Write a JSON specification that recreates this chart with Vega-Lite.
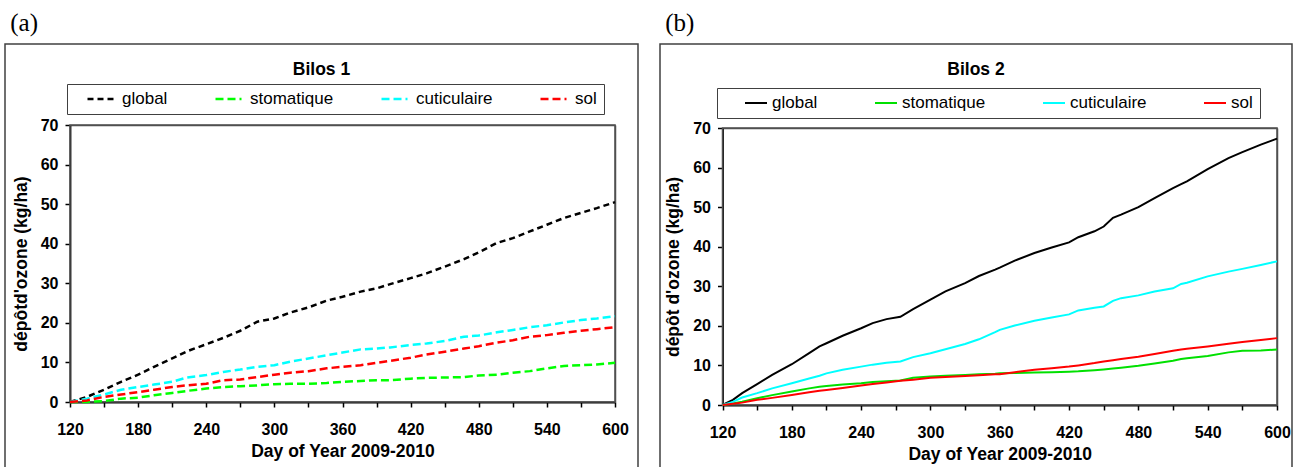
{
  "$schema": "https://vega.github.io/schema/vega-lite/v6.json",
  "padding": {"left": 4, "top": 11, "right": 0, "bottom": 0},
  "spacing": 20,
  "resolve": {"scale": {"color": "independent", "strokeDash": "independent"}, "legend": {"color": "independent", "strokeDash": "independent"}},
  "config": {
    "font": "Liberation Sans",
    "view": {"stroke": "#404040", "strokeWidth": 1.5},
    "axis": {"grid": false, "domainColor": "#000000", "domainWidth": 1.8, "tickColor": "#000000", "tickWidth": 1.5, "tickSize": 5, "labelFont": "Liberation Sans", "labelFontSize": 16, "labelFontWeight": "bold", "labelColor": "#000000", "titleFont": "Liberation Sans", "titleFontSize": 17.5, "titleFontWeight": "bold", "titleColor": "#000000", "labelFlush": false, "labelOverlap": false},
    "legend": {"labelFont": "Liberation Sans", "labelFontSize": 17, "labelColor": "#000000"}
  },
  "datasets": {
    "a": [
      {"day":120,"serie":"global","v":0},{"day":135,"serie":"global","v":1.3},{"day":150,"serie":"global","v":3.1},{"day":165,"serie":"global","v":5.1},{"day":180,"serie":"global","v":6.9},{"day":194,"serie":"global","v":8.9},{"day":210,"serie":"global","v":11.0},{"day":223,"serie":"global","v":12.8},{"day":240,"serie":"global","v":14.6},{"day":255,"serie":"global","v":16.2},{"day":270,"serie":"global","v":18.0},{"day":285,"serie":"global","v":20.3},{"day":300,"serie":"global","v":21.1},{"day":314,"serie":"global","v":22.6},{"day":330,"serie":"global","v":23.9},{"day":346,"serie":"global","v":25.6},{"day":360,"serie":"global","v":26.6},{"day":376,"serie":"global","v":27.9},{"day":390,"serie":"global","v":28.7},{"day":402,"serie":"global","v":29.8},{"day":420,"serie":"global","v":31.3},{"day":434,"serie":"global","v":32.5},{"day":450,"serie":"global","v":34.2},{"day":467,"serie":"global","v":36.1},{"day":480,"serie":"global","v":37.8},{"day":496,"serie":"global","v":40.2},{"day":510,"serie":"global","v":41.4},{"day":525,"serie":"global","v":43.1},{"day":540,"serie":"global","v":44.8},{"day":555,"serie":"global","v":46.5},{"day":570,"serie":"global","v":47.8},{"day":584,"serie":"global","v":49.0},{"day":600,"serie":"global","v":50.5},
      {"day":120,"serie":"stomatique","v":0},{"day":135,"serie":"stomatique","v":0},{"day":150,"serie":"stomatique","v":0.25},{"day":165,"serie":"stomatique","v":0.85},{"day":180,"serie":"stomatique","v":1.1},{"day":194,"serie":"stomatique","v":1.7},{"day":210,"serie":"stomatique","v":2.3},{"day":223,"serie":"stomatique","v":2.8},{"day":240,"serie":"stomatique","v":3.4},{"day":255,"serie":"stomatique","v":3.8},{"day":270,"serie":"stomatique","v":4.0},{"day":285,"serie":"stomatique","v":4.2},{"day":300,"serie":"stomatique","v":4.5},{"day":314,"serie":"stomatique","v":4.6},{"day":330,"serie":"stomatique","v":4.6},{"day":346,"serie":"stomatique","v":4.8},{"day":360,"serie":"stomatique","v":5.1},{"day":376,"serie":"stomatique","v":5.3},{"day":390,"serie":"stomatique","v":5.5},{"day":402,"serie":"stomatique","v":5.5},{"day":420,"serie":"stomatique","v":5.9},{"day":434,"serie":"stomatique","v":6.1},{"day":450,"serie":"stomatique","v":6.2},{"day":467,"serie":"stomatique","v":6.3},{"day":480,"serie":"stomatique","v":6.7},{"day":496,"serie":"stomatique","v":6.9},{"day":510,"serie":"stomatique","v":7.4},{"day":525,"serie":"stomatique","v":7.8},{"day":540,"serie":"stomatique","v":8.5},{"day":555,"serie":"stomatique","v":9.1},{"day":570,"serie":"stomatique","v":9.3},{"day":584,"serie":"stomatique","v":9.5},{"day":600,"serie":"stomatique","v":9.9},
      {"day":120,"serie":"cuticulaire","v":0},{"day":135,"serie":"cuticulaire","v":0.85},{"day":150,"serie":"cuticulaire","v":1.9},{"day":165,"serie":"cuticulaire","v":3.1},{"day":180,"serie":"cuticulaire","v":3.8},{"day":194,"serie":"cuticulaire","v":4.4},{"day":210,"serie":"cuticulaire","v":5.1},{"day":223,"serie":"cuticulaire","v":6.2},{"day":240,"serie":"cuticulaire","v":6.8},{"day":255,"serie":"cuticulaire","v":7.6},{"day":270,"serie":"cuticulaire","v":8.2},{"day":285,"serie":"cuticulaire","v":8.9},{"day":300,"serie":"cuticulaire","v":9.3},{"day":314,"serie":"cuticulaire","v":10.2},{"day":330,"serie":"cuticulaire","v":11.0},{"day":346,"serie":"cuticulaire","v":11.8},{"day":360,"serie":"cuticulaire","v":12.5},{"day":376,"serie":"cuticulaire","v":13.3},{"day":390,"serie":"cuticulaire","v":13.5},{"day":402,"serie":"cuticulaire","v":13.8},{"day":420,"serie":"cuticulaire","v":14.4},{"day":434,"serie":"cuticulaire","v":14.8},{"day":450,"serie":"cuticulaire","v":15.4},{"day":467,"serie":"cuticulaire","v":16.5},{"day":480,"serie":"cuticulaire","v":16.8},{"day":496,"serie":"cuticulaire","v":17.6},{"day":510,"serie":"cuticulaire","v":18.2},{"day":525,"serie":"cuticulaire","v":18.9},{"day":540,"serie":"cuticulaire","v":19.4},{"day":555,"serie":"cuticulaire","v":20.1},{"day":570,"serie":"cuticulaire","v":20.7},{"day":584,"serie":"cuticulaire","v":21.1},{"day":600,"serie":"cuticulaire","v":21.7},
      {"day":120,"serie":"sol","v":0},{"day":135,"serie":"sol","v":0.4},{"day":150,"serie":"sol","v":1.3},{"day":165,"serie":"sol","v":1.9},{"day":180,"serie":"sol","v":2.5},{"day":194,"serie":"sol","v":3.1},{"day":210,"serie":"sol","v":3.8},{"day":223,"serie":"sol","v":4.2},{"day":240,"serie":"sol","v":4.6},{"day":255,"serie":"sol","v":5.5},{"day":270,"serie":"sol","v":5.7},{"day":285,"serie":"sol","v":6.3},{"day":300,"serie":"sol","v":6.9},{"day":314,"serie":"sol","v":7.4},{"day":330,"serie":"sol","v":7.8},{"day":346,"serie":"sol","v":8.5},{"day":360,"serie":"sol","v":8.9},{"day":376,"serie":"sol","v":9.3},{"day":390,"serie":"sol","v":9.9},{"day":402,"serie":"sol","v":10.4},{"day":420,"serie":"sol","v":11.2},{"day":434,"serie":"sol","v":12.0},{"day":450,"serie":"sol","v":12.7},{"day":467,"serie":"sol","v":13.5},{"day":480,"serie":"sol","v":14.1},{"day":496,"serie":"sol","v":15.0},{"day":510,"serie":"sol","v":15.6},{"day":525,"serie":"sol","v":16.5},{"day":540,"serie":"sol","v":16.9},{"day":555,"serie":"sol","v":17.5},{"day":570,"serie":"sol","v":18.0},{"day":584,"serie":"sol","v":18.4},{"day":600,"serie":"sol","v":18.9}
    ],
    "b": [
      {"day":120,"serie":"global","v":0},{"day":129,"serie":"global","v":1.3},{"day":137,"serie":"global","v":3.0},{"day":150,"serie":"global","v":5.3},{"day":163,"serie":"global","v":7.6},{"day":180,"serie":"global","v":10.3},{"day":195,"serie":"global","v":13.1},{"day":204,"serie":"global","v":14.8},{"day":210,"serie":"global","v":15.6},{"day":224,"serie":"global","v":17.5},{"day":240,"serie":"global","v":19.4},{"day":250,"serie":"global","v":20.7},{"day":262,"serie":"global","v":21.7},{"day":274,"serie":"global","v":22.3},{"day":285,"serie":"global","v":24.2},{"day":300,"serie":"global","v":26.6},{"day":313,"serie":"global","v":28.7},{"day":330,"serie":"global","v":30.8},{"day":342,"serie":"global","v":32.6},{"day":356,"serie":"global","v":34.2},{"day":360,"serie":"global","v":34.7},{"day":373,"serie":"global","v":36.5},{"day":390,"serie":"global","v":38.4},{"day":405,"serie":"global","v":39.8},{"day":420,"serie":"global","v":41.1},{"day":428,"serie":"global","v":42.4},{"day":442,"serie":"global","v":43.9},{"day":450,"serie":"global","v":45.1},{"day":458,"serie":"global","v":47.3},{"day":465,"serie":"global","v":48.1},{"day":480,"serie":"global","v":50.0},{"day":494,"serie":"global","v":52.3},{"day":510,"serie":"global","v":54.8},{"day":517,"serie":"global","v":55.8},{"day":522,"serie":"global","v":56.5},{"day":540,"serie":"global","v":59.6},{"day":558,"serie":"global","v":62.4},{"day":570,"serie":"global","v":63.9},{"day":586,"serie":"global","v":65.8},{"day":600,"serie":"global","v":67.3},
      {"day":120,"serie":"stomatique","v":0},{"day":129,"serie":"stomatique","v":0.4},{"day":137,"serie":"stomatique","v":0.8},{"day":150,"serie":"stomatique","v":1.7},{"day":163,"serie":"stomatique","v":2.5},{"day":180,"serie":"stomatique","v":3.4},{"day":195,"serie":"stomatique","v":4.2},{"day":204,"serie":"stomatique","v":4.6},{"day":210,"serie":"stomatique","v":4.8},{"day":224,"serie":"stomatique","v":5.2},{"day":240,"serie":"stomatique","v":5.5},{"day":250,"serie":"stomatique","v":5.8},{"day":262,"serie":"stomatique","v":6.0},{"day":274,"serie":"stomatique","v":6.2},{"day":285,"serie":"stomatique","v":6.9},{"day":300,"serie":"stomatique","v":7.2},{"day":313,"serie":"stomatique","v":7.4},{"day":330,"serie":"stomatique","v":7.6},{"day":342,"serie":"stomatique","v":7.8},{"day":356,"serie":"stomatique","v":7.9},{"day":360,"serie":"stomatique","v":8.0},{"day":373,"serie":"stomatique","v":8.1},{"day":390,"serie":"stomatique","v":8.2},{"day":405,"serie":"stomatique","v":8.3},{"day":420,"serie":"stomatique","v":8.4},{"day":428,"serie":"stomatique","v":8.5},{"day":442,"serie":"stomatique","v":8.8},{"day":450,"serie":"stomatique","v":9.0},{"day":458,"serie":"stomatique","v":9.2},{"day":465,"serie":"stomatique","v":9.4},{"day":480,"serie":"stomatique","v":9.9},{"day":494,"serie":"stomatique","v":10.5},{"day":510,"serie":"stomatique","v":11.2},{"day":517,"serie":"stomatique","v":11.6},{"day":522,"serie":"stomatique","v":11.8},{"day":540,"serie":"stomatique","v":12.4},{"day":558,"serie":"stomatique","v":13.3},{"day":570,"serie":"stomatique","v":13.7},{"day":586,"serie":"stomatique","v":13.8},{"day":600,"serie":"stomatique","v":14.0},
      {"day":120,"serie":"cuticulaire","v":0},{"day":129,"serie":"cuticulaire","v":0.8},{"day":137,"serie":"cuticulaire","v":1.9},{"day":150,"serie":"cuticulaire","v":3.0},{"day":163,"serie":"cuticulaire","v":4.2},{"day":180,"serie":"cuticulaire","v":5.5},{"day":195,"serie":"cuticulaire","v":6.7},{"day":204,"serie":"cuticulaire","v":7.4},{"day":210,"serie":"cuticulaire","v":8.0},{"day":224,"serie":"cuticulaire","v":8.9},{"day":240,"serie":"cuticulaire","v":9.7},{"day":250,"serie":"cuticulaire","v":10.2},{"day":262,"serie":"cuticulaire","v":10.7},{"day":274,"serie":"cuticulaire","v":11.0},{"day":285,"serie":"cuticulaire","v":12.1},{"day":300,"serie":"cuticulaire","v":13.1},{"day":313,"serie":"cuticulaire","v":14.1},{"day":330,"serie":"cuticulaire","v":15.4},{"day":342,"serie":"cuticulaire","v":16.6},{"day":356,"serie":"cuticulaire","v":18.4},{"day":360,"serie":"cuticulaire","v":19.0},{"day":373,"serie":"cuticulaire","v":20.1},{"day":390,"serie":"cuticulaire","v":21.3},{"day":405,"serie":"cuticulaire","v":22.1},{"day":420,"serie":"cuticulaire","v":22.9},{"day":428,"serie":"cuticulaire","v":23.9},{"day":442,"serie":"cuticulaire","v":24.6},{"day":450,"serie":"cuticulaire","v":24.9},{"day":458,"serie":"cuticulaire","v":26.3},{"day":465,"serie":"cuticulaire","v":27.0},{"day":480,"serie":"cuticulaire","v":27.7},{"day":494,"serie":"cuticulaire","v":28.7},{"day":510,"serie":"cuticulaire","v":29.5},{"day":517,"serie":"cuticulaire","v":30.6},{"day":522,"serie":"cuticulaire","v":30.9},{"day":540,"serie":"cuticulaire","v":32.5},{"day":558,"serie":"cuticulaire","v":33.7},{"day":570,"serie":"cuticulaire","v":34.4},{"day":586,"serie":"cuticulaire","v":35.4},{"day":600,"serie":"cuticulaire","v":36.3},
      {"day":120,"serie":"sol","v":0},{"day":129,"serie":"sol","v":0.3},{"day":137,"serie":"sol","v":0.6},{"day":150,"serie":"sol","v":1.3},{"day":163,"serie":"sol","v":1.8},{"day":180,"serie":"sol","v":2.5},{"day":195,"serie":"sol","v":3.2},{"day":204,"serie":"sol","v":3.6},{"day":210,"serie":"sol","v":3.8},{"day":224,"serie":"sol","v":4.3},{"day":240,"serie":"sol","v":4.9},{"day":250,"serie":"sol","v":5.3},{"day":262,"serie":"sol","v":5.7},{"day":274,"serie":"sol","v":6.1},{"day":285,"serie":"sol","v":6.4},{"day":300,"serie":"sol","v":6.9},{"day":313,"serie":"sol","v":7.1},{"day":330,"serie":"sol","v":7.3},{"day":342,"serie":"sol","v":7.5},{"day":356,"serie":"sol","v":7.8},{"day":360,"serie":"sol","v":7.8},{"day":373,"serie":"sol","v":8.3},{"day":390,"serie":"sol","v":8.9},{"day":405,"serie":"sol","v":9.3},{"day":420,"serie":"sol","v":9.7},{"day":428,"serie":"sol","v":10.0},{"day":442,"serie":"sol","v":10.6},{"day":450,"serie":"sol","v":11.0},{"day":458,"serie":"sol","v":11.3},{"day":465,"serie":"sol","v":11.6},{"day":480,"serie":"sol","v":12.2},{"day":494,"serie":"sol","v":12.9},{"day":510,"serie":"sol","v":13.7},{"day":517,"serie":"sol","v":14.0},{"day":522,"serie":"sol","v":14.2},{"day":540,"serie":"sol","v":14.8},{"day":558,"serie":"sol","v":15.5},{"day":570,"serie":"sol","v":15.9},{"day":586,"serie":"sol","v":16.4},{"day":600,"serie":"sol","v":16.9}
    ]
  },
  "hconcat": [
    {
      "title": {"text": "(a)", "anchor": "start", "font": "Liberation Serif", "fontSize": 25, "fontWeight": "normal", "color": "#000000", "dx": 6, "offset": 7},
      "vconcat": [
        {
          "width": 633,
          "height": 430,
          "title": {"text": "Bilos 1", "anchor": "middle", "frame": "group", "font": "Liberation Sans", "fontSize": 17.5, "fontWeight": "bold", "color": "#000000", "baseline": "alphabetic", "offset": -48},
          "resolve": {"axis": {"x": "independent", "y": "independent"}},
          "layer": [
            {
              "data": {"values": [{"frame": "plot"}]},
              "mark": {"type": "rect", "fill": "transparent", "stroke": "#505050", "strokeWidth": 1.5},
              "encoding": {
                "x": {"datum": 120, "type": "quantitative", "scale": {"domain": [120, 600], "range": [65, 610], "nice": false, "zero": false},
                  "axis": {"orient": "top", "offset": -81, "labels": false, "ticks": false, "title": null, "domainColor": "#505050", "domainWidth": 1.5}},
                "x2": {"datum": 600},
                "y": {"datum": 0, "type": "quantitative", "scale": {"domain": [0, 70], "range": [358, 81], "nice": false},
                  "axis": {"orient": "right", "offset": -23, "labels": false, "ticks": false, "title": null, "domainColor": "#505050", "domainWidth": 1.5}},
                "y2": {"datum": 70}
              }
            },
            {
              "data": {"name": "a"},
              "mark": {"type": "line", "strokeWidth": 2.5},
              "encoding": {
                "x": {"field": "day", "type": "quantitative", "scale": {"domain": [120, 600], "range": [65, 610], "nice": false, "zero": false},
                  "axis": {"orient": "bottom", "title": "Day of Year 2009-2010", "offset": -72, "values": [120,150,180,210,240,270,300,330,360,390,420,450,480,510,540,570,600], "labelExpr": "datum.value % 60 === 0 ? datum.label : ''", "format": "d", "labelPadding": 14, "titlePadding": 5}},
                "y": {"field": "v", "type": "quantitative", "scale": {"domain": [0, 70], "range": [358, 81], "nice": false},
                  "axis": {"orient": "left", "title": "dépôtd'ozone (kg/ha)", "offset": -65, "values": [0,10,20,30,40,50,60,70], "format": "d", "labelPadding": 7, "titlePadding": 10}},
                "color": {"field": "serie", "type": "nominal", "scale": {"domain": ["global", "stomatique", "cuticulaire", "sol"], "range": ["#000000", "#00FF00", "#00FFFF", "#FF0000"]},
                  "legend": {"title": null, "orient": "none", "legendX": 62, "legendY": 40, "direction": "horizontal", "columns": 4, "strokeColor": "#404040", "padding": 7, "columnPadding": 34, "clipHeight": 16, "symbolOffset": 12, "symbolType": "stroke", "symbolSize": 676, "symbolStrokeWidth": 2.5, "labelOffset": 7}},
                "strokeDash": {"field": "serie", "type": "nominal", "scale": {"domain": ["global", "stomatique", "cuticulaire", "sol"], "range": [[6, 4], [8, 4], [8, 4], [8, 4]]},
                  "legend": {"title": null, "orient": "none", "legendX": 62, "legendY": 40, "direction": "horizontal", "columns": 4, "strokeColor": "#404040", "padding": 7, "columnPadding": 34, "clipHeight": 16, "symbolOffset": 12, "symbolType": "stroke", "symbolSize": 676, "symbolStrokeWidth": 2.5, "labelOffset": 7}}
              }
            }
          ]
        }
      ]
    },
    {
      "title": {"text": "(b)", "anchor": "start", "font": "Liberation Serif", "fontSize": 25, "fontWeight": "normal", "color": "#000000", "dx": 6, "offset": 7},
      "vconcat": [
        {
          "width": 632,
          "height": 430,
          "title": {"text": "Bilos 2", "anchor": "middle", "frame": "group", "font": "Liberation Sans", "fontSize": 17.5, "fontWeight": "bold", "color": "#000000", "baseline": "alphabetic", "offset": -48},
          "resolve": {"axis": {"x": "independent", "y": "independent"}},
          "layer": [
            {
              "data": {"values": [{"frame": "plot"}]},
              "mark": {"type": "rect", "fill": "transparent", "stroke": "#505050", "strokeWidth": 1.5},
              "encoding": {
                "x": {"datum": 120, "type": "quantitative", "scale": {"domain": [120, 600], "range": [62.5, 617], "nice": false, "zero": false},
                  "axis": {"orient": "top", "offset": -84, "labels": false, "ticks": false, "title": null, "domainColor": "#505050", "domainWidth": 1.5}},
                "x2": {"datum": 600},
                "y": {"datum": 0, "type": "quantitative", "scale": {"domain": [0, 70], "range": [361, 84], "nice": false},
                  "axis": {"orient": "right", "offset": -15, "labels": false, "ticks": false, "title": null, "domainColor": "#505050", "domainWidth": 1.5}},
                "y2": {"datum": 70}
              }
            },
            {
              "data": {"name": "b"},
              "mark": {"type": "line", "strokeWidth": 2},
              "encoding": {
                "x": {"field": "day", "type": "quantitative", "scale": {"domain": [120, 600], "range": [62.5, 617], "nice": false, "zero": false},
                  "axis": {"orient": "bottom", "title": "Day of Year 2009-2010", "offset": -69, "values": [120,150,180,210,240,270,300,330,360,390,420,450,480,510,540,570,600], "labelExpr": "datum.value % 60 === 0 ? datum.label : ''", "format": "d", "labelPadding": 14, "titlePadding": 5}},
                "y": {"field": "v", "type": "quantitative", "scale": {"domain": [0, 70], "range": [361, 84], "nice": false},
                  "axis": {"orient": "left", "title": "dépôt d'ozone (kg/ha)", "offset": -62.5, "values": [0,10,20,30,40,50,60,70], "format": "d", "labelPadding": 7, "titlePadding": 10}},
                "color": {"field": "serie", "type": "nominal", "scale": {"domain": ["global", "stomatique", "cuticulaire", "sol"], "range": ["#000000", "#00E000", "#00FFFF", "#FF0000"]},
                  "legend": {"title": null, "orient": "none", "legendX": 57, "legendY": 44, "direction": "horizontal", "columns": 4, "strokeColor": "#404040", "padding": 7, "columnPadding": 36, "clipHeight": 16, "symbolOffset": 20, "symbolType": "stroke", "symbolSize": 484, "symbolStrokeWidth": 2, "labelOffset": 4}}
              }
            }
          ]
        }
      ]
    }
  ]
}
